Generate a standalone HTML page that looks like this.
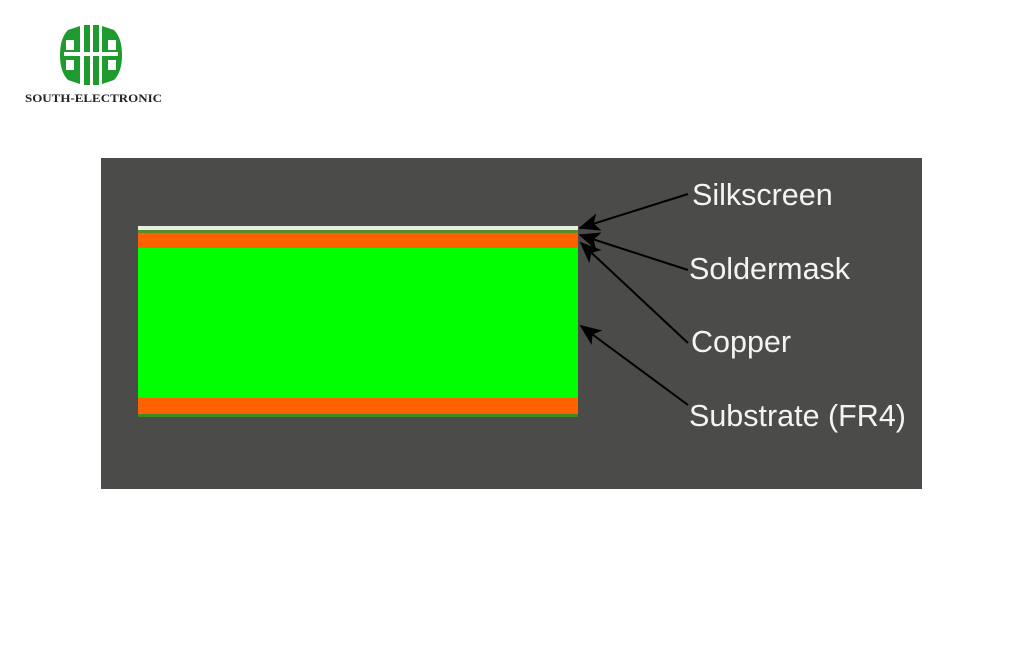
<!DOCTYPE html>
<html><head><style>
body{margin:0;width:1024px;height:652px;background:#fff;position:relative;overflow:hidden;font-family:"Liberation Sans",sans-serif}
.box{position:absolute;left:101px;top:158px;width:821px;height:331px;background:#4b4b49}
.t{position:absolute;color:#f4f4f0;font-size:30.5px;line-height:1}
</style></head><body>
<svg width="180" height="110" style="position:absolute;left:0;top:0">
<g fill="#1e9a2e">
<path d="M68 30 L80 26 L80 84 L68 80 Q60 72 60 55 Q60 38 68 30Z"/>
<path d="M114 30 L102 26 L102 84 L114 80 Q122 72 122 55 Q122 38 114 30Z"/>
<rect x="84" y="25" width="6" height="60"/>
<rect x="93" y="25" width="6" height="60"/>
</g>
<g fill="#fff">
<rect x="64" y="52" width="54" height="4"/>
<rect x="66" y="40" width="8" height="10"/>
<rect x="108" y="40" width="8" height="10"/>
<rect x="66" y="60" width="8" height="10"/>
<rect x="108" y="60" width="8" height="10"/>
</g>
<text x="25" y="102" font-family="Liberation Serif,serif" font-weight="bold" font-size="12" textLength="137" lengthAdjust="spacingAndGlyphs" fill="#222">SOUTH-ELECTRONIC</text>
</svg>
<div class="box"></div>
<div style="position:absolute;left:138px;top:226px;width:440px;height:4px;background:#e8efe0"></div>
<div style="position:absolute;left:138px;top:230px;width:440px;height:3px;background:#5a8a30"></div>
<div style="position:absolute;left:138px;top:233px;width:440px;height:15px;background:#ff6000"></div>
<div style="position:absolute;left:138px;top:248px;width:440px;height:150px;background:#00ff00"></div>
<div style="position:absolute;left:138px;top:398px;width:440px;height:16px;background:#ff6000"></div>
<div style="position:absolute;left:138px;top:414px;width:440px;height:3px;background:#3d8a20"></div>
<svg width="1024" height="652" style="position:absolute;left:0;top:0">
<defs>
<marker id="b" viewBox="0 0 12 10" markerWidth="26" markerHeight="18" refX="11" refY="5" orient="auto" markerUnits="userSpaceOnUse"><path d="M0 0 L12 5 L0 10 L3 5Z" fill="#000"/></marker></defs>
<g stroke="#000" stroke-width="2" fill="none">
<line x1="688" y1="194" x2="580" y2="228" marker-end="url(#b)"/>
<line x1="688" y1="270" x2="580" y2="235" marker-end="url(#b)"/>
<line x1="688" y1="343" x2="581" y2="243" marker-end="url(#b)"/>
<line x1="688" y1="405" x2="581" y2="326" marker-end="url(#b)"/>
</g></svg>
<div class="t" style="left:692px;top:180px">Silkscreen</div>
<div class="t" style="left:689px;top:254px">Soldermask</div>
<div class="t" style="left:691px;top:327px">Copper</div>
<div class="t" style="left:689px;top:401px">Substrate (FR4)</div>
</body></html>
